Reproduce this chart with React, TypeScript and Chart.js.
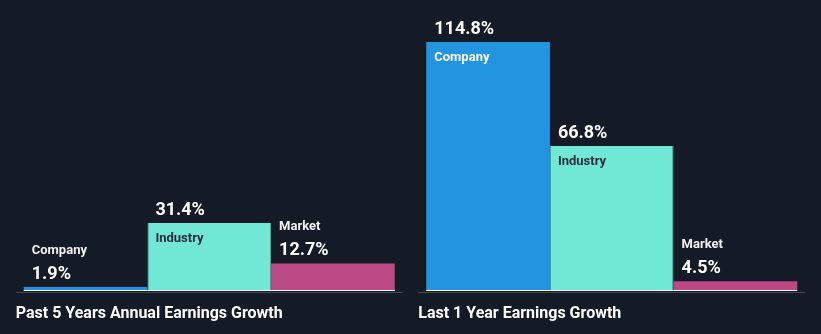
import React, { useEffect, useRef } from "react";
import { Chart, registerables } from "chart.js";

Chart.register(...registerables);

// ---- data ----
const groups = ["Past 5 Years Annual Earnings Growth", "Last 1 Year Earnings Growth"];
const seriesNames = ["Company", "Industry", "Market"];
const companyValues = [1.9, 114.8];
const industryValues = [31.4, 66.8];
const marketValues = [12.7, 4.5];

// ---- styles ----
const BG = "#151b26";
const seriesColors = ["#2394df", "#70e8d5", "#bb4984"];
const seriesBorders = [0, 1, 0];
const seriesBorderColors = ["#2394df", "#55a79d", "#bb4984"];
const insideNameColors = ["#ffffff", "#26303c", "#ffffff"];
const FONT = "Roboto, 'Noto Sans', sans-serif";

const labelPlugin = {
  id: "barLabels",
  afterDatasetsDraw(chart: any) {
    const ctx = chart.ctx;
    const area = chart.chartArea;
    ctx.save();
    const metas = chart.data.datasets.map((_: any, i: number) => chart.getDatasetMeta(i));

    // per-bar bottom white line and labels
    metas.forEach((meta: any, di: number) => {
      meta.data.forEach((el: any, i: number) => {
        const p = el.getProps(["x", "y", "base", "width"], true);
        const left = p.x - p.width / 2;
        const top = Math.min(p.y, p.base);
        const h = Math.abs(p.base - p.y);
        ctx.fillStyle = "#ffffff";
        ctx.fillRect(left, p.base - 1, p.width, 1);

        const value = chart.data.datasets[di].data[i];
        const valueText = value.toFixed(1) + "%";
        const name = seriesNames[di];
        ctx.textAlign = "left";
        ctx.textBaseline = "alphabetic";
        if (h > 40) {
          ctx.font = `bold 18px ${FONT}`;
          ctx.fillStyle = "#ffffff";
          ctx.fillText(valueText, left + 8, top - 8);
          ctx.font = `bold 13px ${FONT}`;
          ctx.fillStyle = insideNameColors[di];
          ctx.fillText(name, left + 8, top + 19);
        } else {
          ctx.font = `bold 18px ${FONT}`;
          ctx.fillStyle = "#ffffff";
          ctx.fillText(valueText, left + 8, top - 8);
          ctx.font = `bold 13px ${FONT}`;
          ctx.fillStyle = "#f2f2f2";
          ctx.fillText(name, left + 8, top - 33);
        }
      });
    });

    // per-group axis line and title
    groups.forEach((g, gi) => {
      const first = metas[0].data[gi].getProps(["x", "width"], true);
      const last = metas[metas.length - 1].data[gi].getProps(["x", "width"], true);
      const gl = first.x - first.width / 2;
      const gr = last.x + last.width / 2;
      ctx.fillStyle = "#444a54";
      ctx.fillRect(gl - 8, area.bottom + 1, gr - gl + 16, 1);
      ctx.fillStyle = "#ffffff";
      ctx.font = `bold 16px ${FONT}`;
      ctx.textAlign = "left";
      ctx.textBaseline = "alphabetic";
      ctx.fillText(g, gl - 8, area.bottom + 27);
    });
    ctx.restore();
  },
};

export default function App() {
  const ref = useRef<HTMLCanvasElement | null>(null);

  useEffect(() => {
    if (!ref.current) return;
    const chart = new Chart(ref.current, {
      type: "bar",
      data: {
        labels: groups,
        datasets: [companyValues, industryValues, marketValues].map((vals, i) => ({
          label: seriesNames[i],
          data: vals,
          backgroundColor: seriesColors[i],
          borderColor: seriesBorderColors[i],
          borderWidth: { left: seriesBorders[i], right: seriesBorders[i], top: 0, bottom: 0 },
          borderSkipped: false,
          categoryPercentage: 0.9217,
          barPercentage: 1,
        })),
      },
      options: {
        animation: false,
        responsive: false,
        maintainAspectRatio: false,
        layout: { padding: { left: 8, right: 8, top: 9, bottom: 43 } },
        plugins: {
          legend: { display: false },
          tooltip: { enabled: false },
        },
        scales: {
          x: { display: false },
          y: { display: false, min: 0, max: 130 },
        },
      },
      plugins: [labelPlugin],
    });
    return () => chart.destroy();
  }, []);

  return (
    <div style={{ position: "fixed", left: 0, top: 0, width: 821, height: 334, background: BG }}>
      <canvas ref={ref} width={821} height={334} style={{ display: "block", width: 821, height: 334 }} />
    </div>
  );
}
